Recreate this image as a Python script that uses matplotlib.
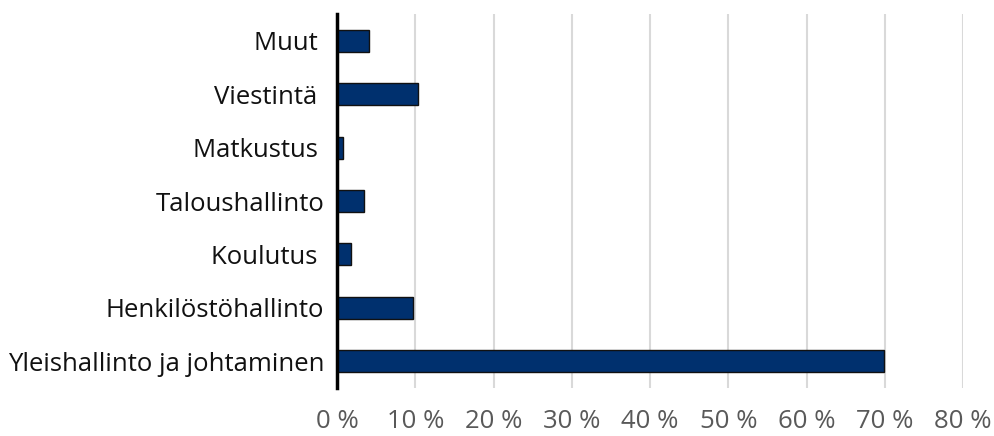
import matplotlib
matplotlib.use("Agg")
import matplotlib.pyplot as plt
from matplotlib.ticker import FuncFormatter

categories = ["Yleishallinto ja johtaminen", "Henkilöstöhallinto", "Koulutus ",
              "Taloushallinto", "Matkustus ", "Viestintä ", "Muut "]
values = [69.9, 9.75, 1.75, 3.4, 0.8, 10.3, 4.1]
xticks = [0, 10, 20, 30, 40, 50, 60, 70, 80]

plt.rcParams['font.family'] = ['Open Sans', 'DejaVu Sans']

fig = plt.figure(figsize=(9.95, 4.36), dpi=100)
ax = fig.add_axes([337/995, 1-388/436, (963-337)/995, (388-14)/436])

ax.barh(range(len(categories)), values, height=0.41, color="#00306E",
        edgecolor="#111111", linewidth=1.0, zorder=3)
ax.set_yticks(range(len(categories)))
ax.set_yticklabels(categories, fontsize=18.5, color="#111111")
ax.set_ylim(-0.5, len(categories) - 0.5)
ax.set_xlim(0, 80)
ax.set_xticks(xticks)
ax.xaxis.set_major_formatter(FuncFormatter(lambda v, p: f"{int(v)} %"))
ax.tick_params(axis='x', labelsize=18.5, labelcolor="#595959", length=0, pad=15)
ax.tick_params(axis='y', length=0, pad=9)
ax.grid(axis='x', color="#D9D9D9", linewidth=1.5, zorder=0)
for s in ["top", "right", "bottom"]:
    ax.spines[s].set_visible(False)
ax.spines["left"].set_linewidth(2.5)
ax.spines["left"].set_color("black")
ax.spines["left"].set_zorder(4)

fig.savefig("out.png", dpi=100)
